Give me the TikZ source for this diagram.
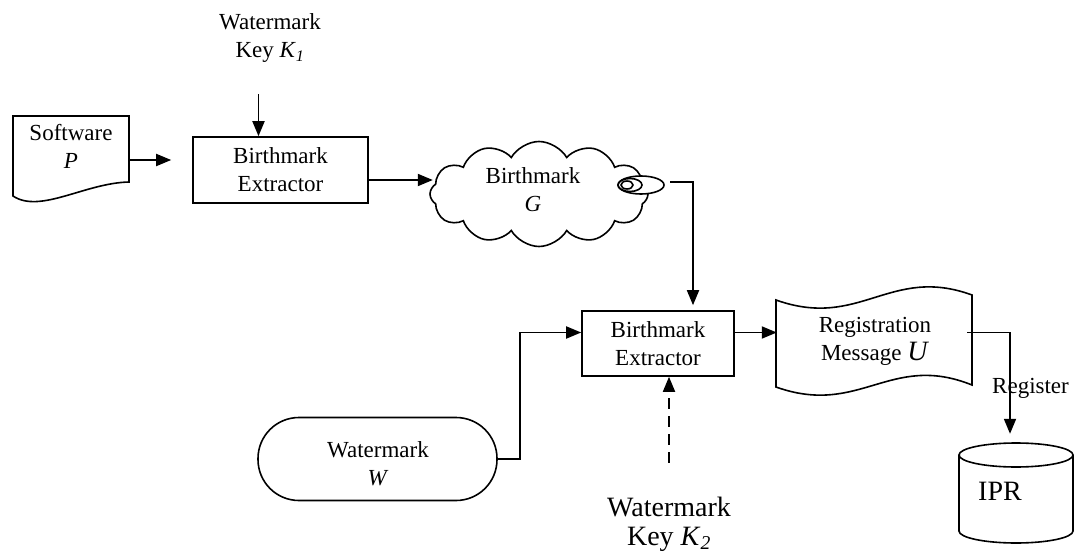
\documentclass[tikz,border=0pt]{standalone}
\usepackage{fontspec}
\setmainfont{Liberation Serif}
\usetikzlibrary{shapes.symbols,arrows.meta,calc}
\newcommand{\ksub}[1]{\textit{K}\textsubscript{\textit{#1}}}
\begin{document}
\begin{tikzpicture}[x=1pt,y=-1pt,
  every node/.style={font=\fontsize{23}{28}\selectfont, inner sep=0pt, align=center},
  big/.style={font=\fontsize{28}{29}\selectfont},
  outline/.style={draw, line width=1.6pt},
  box/.style={outline, minimum width=175pt, minimum height=66pt},
  arr/.style={line width=1.8pt, -{Triangle[length=15pt,width=12pt]}}]

\useasboundingbox (0,0) rectangle (1074,559);

% software document
\draw[outline] (13,196) -- (13,116) -- (129,116) -- (129,182)
  .. controls (85,183) and (40,214) .. (13,196) -- cycle;
\node (sw) [minimum width=116pt, minimum height=60pt] at (71,146) {Software\\\textit{P}};

% first extractor and its key
\node (k1) at (270,38) {Watermark\\Key \ksub{1}};
\node (ext1) [box] at (280.5,170) {Birthmark\\Extractor};
\draw[arr] ($(ext1.north)+(-22,-42)$) -- ($(ext1.north)+(-22,0)$);
\draw[arr] ($(sw.east)+(0,14)$) -- ($(ext1.west)+(-21,-10)$);

% birthmark cloud
\node (cloud) [cloud, outline, cloud puffs=12, cloud puff arc=120, cloud ignores aspect,
  minimum width=218pt, minimum height=105pt] at (539,194) {};
\draw[outline, fill=white] (641,185) ellipse [x radius=23, y radius=9];
\draw[outline] (630,185) ellipse [x radius=12, y radius=6.5];
\draw[outline] (627,185) ellipse [x radius=6, y radius=4];
\node (gtxt) at (533,190) {Birthmark\\\textit{G}};
\draw[arr] ($(ext1.east)+(0,10)$) -- ++(64,0);

% second extractor
\node (ext2) [box, minimum width=152pt, minimum height=65pt] at (658,343.5) {Birthmark\\Extractor};
\coordinate (gout) at (670,182);
\draw[arr] (gout) -| ($(ext2.north)+(35,-5)$);

% watermark input
\node (wm) [outline, rounded corners=41pt, minimum width=239pt, minimum height=83pt] at (377.5,459) {};
\node (wtxt) at (378,464) {Watermark\\\textit{W}};
\draw[arr] (wm.east) -- ++(22,0) |- ($(ext2.west)+(0,-11)$);

% second key
\node (k2) [big] at (669,524) {Watermark\\Key \ksub{2}};
\draw[arr, dash pattern=on 11pt off 7pt] ($(ext2.south)+(11,86)$) -- ($(ext2.south)+(11,0)$);

% registration message
\draw[outline] (776,300) .. controls (860,330) and (890,265) .. (972,295) -- (972,385)
  .. controls (890,352) and (860,417) .. (776,387) -- cycle;
\node (reg) [minimum width=196pt, minimum height=90pt] at (874,343.5) {};
\node (regtxt) at (875,341) {Registration\\Message {\fontsize{28}{28}\selectfont\textit{U}}};
\draw[arr] ($(ext2.east)+(0,-11)$) -- ($(reg.west)+(1,-11)$);

% IPR database
\draw[outline] (959,455) -- (959,531) arc[start angle=180, end angle=0, x radius=57, y radius=12] -- (1073,455);
\draw[outline] (1016,455) ellipse [x radius=57, y radius=12];
\node (ipr) [minimum width=114pt, minimum height=100pt] at (1016,493) {};
\node (iprtxt) [big, anchor=base] at (1000,500) {IPR};

\coordinate (rout) at (967,332.5);
\draw[arr] (rout) -| ($(ipr.north)+(-6,-9)$);
\node (lbl) [anchor=base west] at (992,393) {Register};
\end{tikzpicture}
\end{document}
